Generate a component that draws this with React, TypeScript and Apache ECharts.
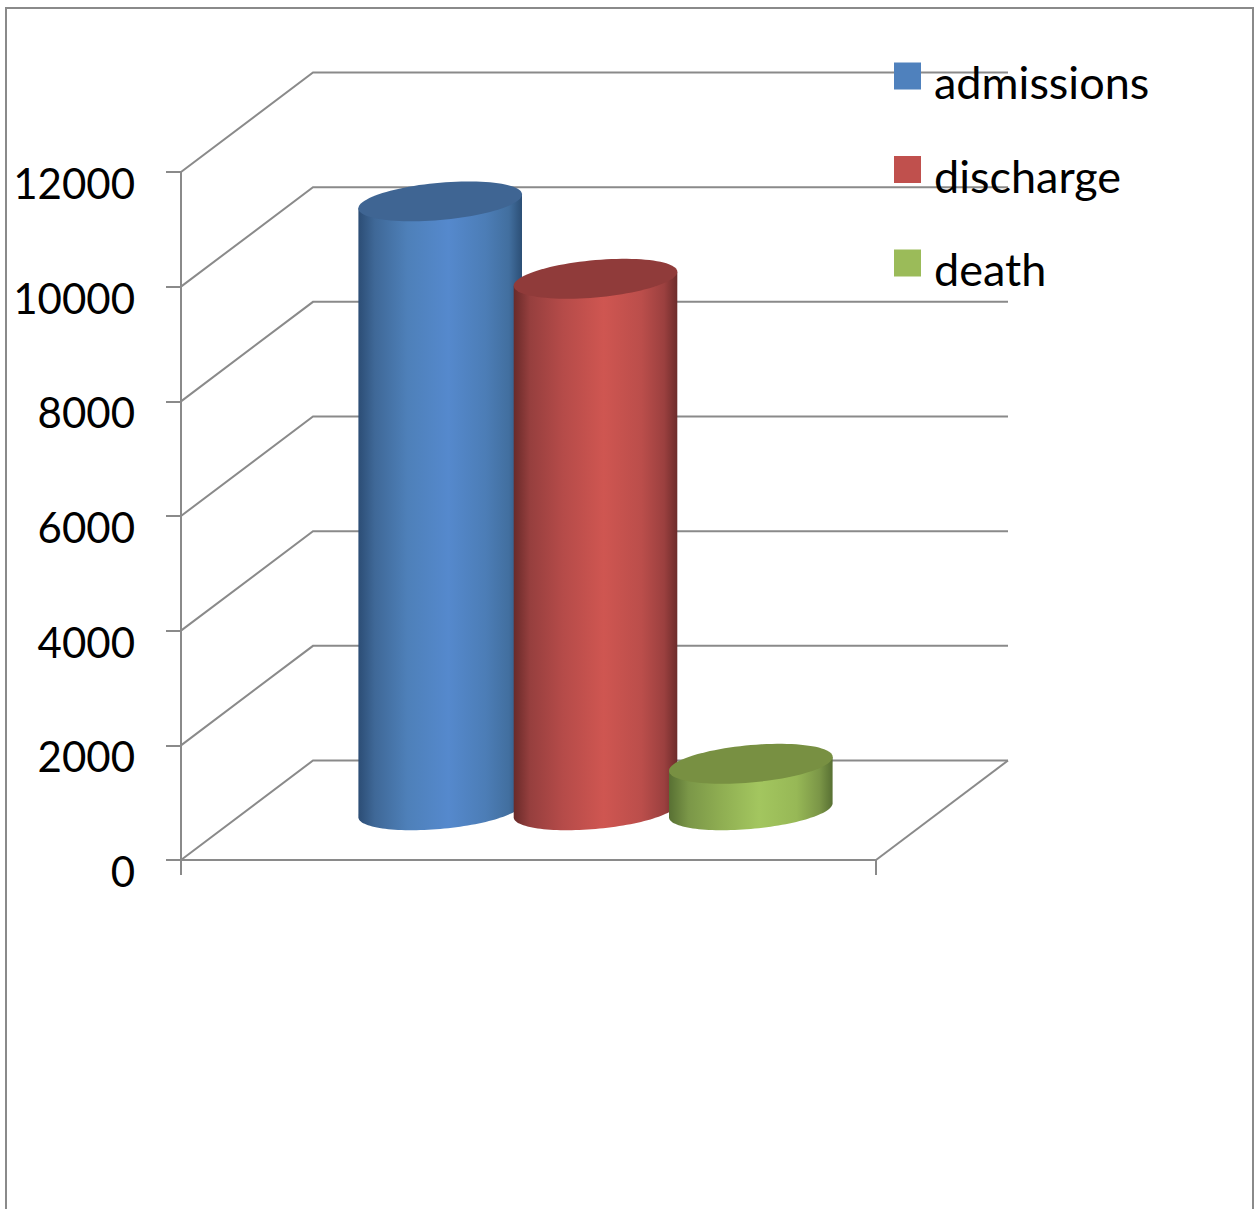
import React, { useEffect, useRef } from "react";
import * as echarts from "echarts";

const categories = [""];
const seriesNames = ["admissions", "discharge", "death"];
const admissions = [10620];
const discharge = [9270];
const death = [810];
const tickValues = [0, 2000, 4000, 6000, 8000, 10000, 12000];

const WIDTH = 1255;
const HEIGHT = 1209;
const LINE = "#8a8a8a";
const LINE_WIDTH = 2;
const FONT = "Lato";

// Oblique projection: how far the back wall sits from the front plane.
const DEPTH_X = 132;
const DEPTH_Y = 99.5;

// Cylinder geometry: half width, ellipse half height and ellipse tilt.
const RADIUS_X = 81.8;
const RADIUS_Y = 18.7;
const TILT = 7;
const PITCH = 155.3;

type Shade = { swatch: string; top: string; side: [number, string][] };

const shades: Shade[] = [
  {
    swatch: "#4f81bd",
    top: "#3f6593",
    side: [
      [0, "#2c4d75"],
      [0.1, "#3f6897"],
      [0.3, "#4e80b9"],
      [0.55, "#5589cd"],
      [0.78, "#4c7db6"],
      [0.92, "#426f9f"],
      [1, "#2c4f76"],
    ],
  },
  {
    swatch: "#c0504d",
    top: "#903b3a",
    side: [
      [0, "#692a29"],
      [0.1, "#963f3e"],
      [0.3, "#b54b49"],
      [0.55, "#cf5651"],
      [0.78, "#bb4e4b"],
      [0.92, "#9b403f"],
      [1, "#6d2c2b"],
    ],
  },
  {
    swatch: "#9bbb59",
    top: "#789042",
    side: [
      [0, "#587033"],
      [0.12, "#7b9748"],
      [0.32, "#8fae52"],
      [0.55, "#a3c65f"],
      [0.78, "#97b856"],
      [0.92, "#7b9647"],
      [1, "#587033"],
    ],
  },
];

// One point on the tilted ellipse of a cylinder's end cap.
const capPoint = (cx: number, cy: number, t: number) => [
  cx + RADIUS_X * Math.cos(t),
  cy + RADIUS_Y * Math.sin(t) - TILT * Math.cos(t),
];

const capOutline = (cx: number, cy: number) => {
  const pts: number[][] = [];
  for (let i = 0; i < 96; i++) pts.push(capPoint(cx, cy, (i / 96) * Math.PI * 2));
  return pts;
};

// Body outline: down the left edge, along the near half of the base, up the right edge.
const bodyOutline = (cx: number, topY: number, baseY: number) => {
  const pts: number[][] = [capPoint(cx, topY, Math.PI)];
  for (let i = 0; i <= 64; i++) pts.push(capPoint(cx, baseY, Math.PI - (i / 64) * Math.PI));
  pts.push(capPoint(cx, topY, 0));
  return pts;
};

const cylinderRenderer = (index: number) => (_params: any, api: any) => {
  const top = api.coord([api.value(0), api.value(1)]);
  const base = api.coord([api.value(0), 0]);
  const cx = top[0] + DEPTH_X / 2 + 1 + (index - 1) * PITCH;
  const topY = top[1] - DEPTH_Y / 2;
  const baseY = base[1] - DEPTH_Y / 2;
  const shade = shades[index];
  return {
    type: "group",
    children: [
      {
        type: "polygon",
        shape: { points: bodyOutline(cx, topY, baseY) },
        style: {
          fill: new echarts.graphic.LinearGradient(
            0,
            0,
            1,
            0,
            shade.side.map(([offset, color]) => ({ offset, color })),
          ),
        },
      },
      {
        type: "polygon",
        shape: { points: capOutline(cx, topY) },
        style: { fill: shade.top },
      },
    ],
  };
};

// Side wall and back wall gridlines for one tick, plus the floor's right edge at zero.
const wallRenderer = (params: any, api: any) => {
  const value = api.value(0);
  const y = api.coord([0, value])[1];
  const { x, width } = params.coordSys;
  const lineStyle = { stroke: LINE, lineWidth: LINE_WIDTH, fill: "none" };
  const children: any[] = [
    {
      type: "polyline",
      shape: {
        points: [
          [x, y],
          [x + DEPTH_X, y - DEPTH_Y],
          [x + width + DEPTH_X, y - DEPTH_Y],
        ],
      },
      style: lineStyle,
    },
  ];
  if (value === 0) {
    children.push({
      type: "line",
      shape: { x1: x + width, y1: y, x2: x + width + DEPTH_X, y2: y - DEPTH_Y },
      style: lineStyle,
    });
  }
  return { type: "group", children };
};

export default function App() {
  const ref = useRef<HTMLDivElement>(null);

  useEffect(() => {
    const chart = echarts.init(ref.current!, null, { renderer: "svg" });
    const values = [admissions, discharge, death];
    chart.setOption({
      animation: false,
      backgroundColor: "#ffffff",
      grid: { left: 181, right: WIDTH - 876, top: 172, bottom: HEIGHT - 860 },
      xAxis: {
        type: "category",
        data: categories,
        axisLine: { show: true, lineStyle: { color: LINE, width: LINE_WIDTH } },
        axisTick: { show: true, length: 15, lineStyle: { color: LINE, width: LINE_WIDTH } },
        axisLabel: { show: false },
      },
      yAxis: {
        type: "value",
        min: 0,
        max: 12000,
        interval: 2000,
        splitLine: { show: false },
        axisLine: { show: true, lineStyle: { color: LINE, width: LINE_WIDTH } },
        axisTick: { show: true, length: 15, lineStyle: { color: LINE, width: LINE_WIDTH } },
        axisLabel: {
          margin: 46,
          color: "#000000",
          fontFamily: FONT,
          fontSize: 42,
          verticalAlign: "top",
          lineHeight: 22,
          formatter: (v: number) => String(v),
        },
      },
      legend: {
        orient: "vertical",
        left: 894,
        top: 47.5,
        padding: 0,
        icon: "rect",
        itemWidth: 27,
        itemHeight: 27,
        itemGap: 36.5,
        data: seriesNames,
        formatter: (name: string) => `{t|${name}}`,
        textStyle: {
          rich: {
            t: {
              color: "#000000",
              fontFamily: FONT,
              fontSize: 45,
              lineHeight: 44,
              padding: [12, 0, 0, 8],
            },
          },
        },
      },
      series: [
        {
          type: "custom",
          name: "walls",
          z: 1,
          silent: true,
          renderItem: wallRenderer,
          encode: { y: 0 },
          data: tickValues.map((v) => [v]),
        },
        ...seriesNames.map((name, i) => ({
          type: "custom",
          name,
          z: 2,
          silent: true,
          itemStyle: { color: shades[i].swatch },
          renderItem: cylinderRenderer(i),
          encode: { x: 0, y: 1 },
          data: values[i].map((v, c) => [c, v]),
        })),
      ],
      graphic: [
        {
          type: "polyline",
          silent: true,
          z: 0,
          shape: {
            points: [
              [6, HEIGHT],
              [6, 8],
              [1253, 8],
              [1253, HEIGHT],
            ],
          },
          style: { stroke: LINE, lineWidth: 2, fill: "none" },
        },
      ],
    });
    return () => chart.dispose();
  }, []);

  return (
    <div
      ref={ref}
      style={{ position: "fixed", left: 0, top: 0, width: WIDTH, height: HEIGHT }}
    />
  );
}
